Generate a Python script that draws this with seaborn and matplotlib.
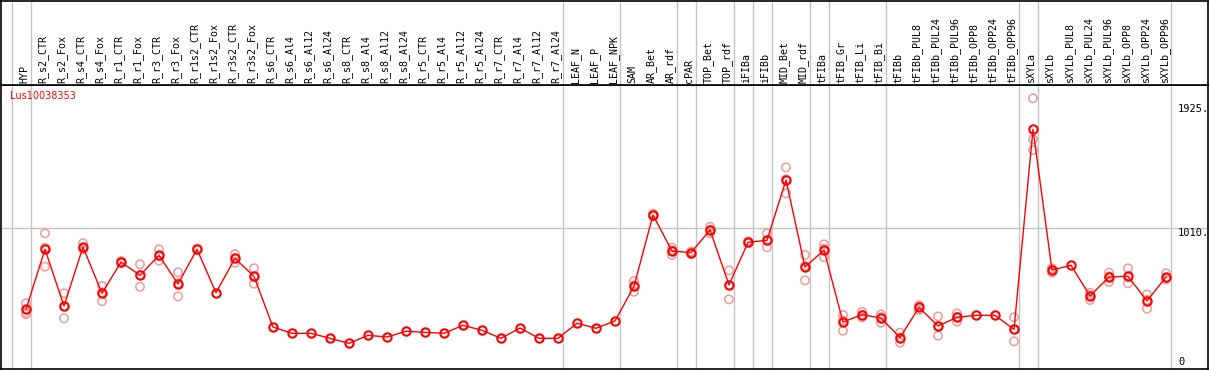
import numpy as np
import pandas as pd
import matplotlib
matplotlib.use("Agg")
import matplotlib.pyplot as plt
import seaborn as sns

gene = "Lus10038353"

categories = ["HYP", "R_s2_CTR", "R_s2_Fox", "R_s4_CTR", "R_s4_Fox", "R_r1_CTR", "R_r1_Fox",
              "R_r3_CTR", "R_r3_Fox", "R_r1s2_CTR", "R_r1s2_Fox", "R_r3s2_CTR", "R_r3s2_Fox",
              "R_s6_CTR", "R_s6_Al4", "R_s6_Al12", "R_s6_Al24", "R_s8_CTR", "R_s8_Al4",
              "R_s8_Al12", "R_s8_Al24", "R_r5_CTR", "R_r5_Al4", "R_r5_Al12", "R_r5_Al24",
              "R_r7_CTR", "R_r7_Al4", "R_r7_Al12", "R_r7_Al24", "LEAF_N", "LEAF_P", "LEAF_NPK",
              "SAM", "AR_Bet", "AR_rdf", "cPAR", "TOP_Bet", "TOP_rdf", "iFIBa", "iFIBb",
              "MID_Bet", "MID_rdf", "tFIBa", "tFIB_Gr", "tFIB_Li", "tFIB_Bi", "tFIBb",
              "tFIBb_PUL8", "tFIBb_PUL24", "tFIBb_PUL96", "tFIBb_OPP8", "tFIBb_OPP24",
              "tFIBb_OPP96", "sXYLa", "sXYLb", "sXYLb_PUL8", "sXYLb_PUL24", "sXYLb_PUL96",
              "sXYLb_OPP8", "sXYLb_OPP24", "sXYLb_OPP96"]

means = [414, 856, 438, 873, 532, 762, 664, 811, 600, 856, 536, 789, 656,
         283, 237, 237, 200, 163, 222, 210, 252, 244, 237, 296, 259, 200, 276, 200, 200,
         311, 274, 328, 583, 1108, 843, 831, 998, 593, 907, 922, 1366, 725, 850,
         320, 374, 350, 205, 428, 291, 355, 369, 369, 266, 1739, 703, 738, 512,
         652, 657, 475, 652]

nan = np.nan
rep1 = [458, 973, 532, 900, 585, 770, 745, 856, 686, 860, nan, 821, 716,
        nan, nan, nan, nan, nan, nan, nan, nan, nan, nan, nan, nan, nan, nan, nan, nan,
        nan, nan, nan, 622, 1118, 868, 840, 1022, 701, 915, 973, 1459, 814, 892,
        372, 396, 377, 242, 443, 362, 384, nan, nan, 355, 1968, 715, nan, 536,
        684, 716, 524, 679]
rep2 = [389, 728, 348, 863, 473, 755, 580, 772, 509, 852, nan, 757, 602,
        nan, nan, nan, nan, nan, nan, nan, nan, nan, nan, nan, nan, nan, nan, nan, nan,
        nan, nan, nan, 543, 1100, 814, 820, 973, 487, 900, 870, 1268, 627, 797,
        256, 354, 315, 168, 409, 220, 323, nan, nan, 178, 1666, 684, nan, 482,
        615, 605, 418, 635]
rep3 = [377, 867, 434, 856, 538, 762, 667, 805, 605, 856, nan, 789, 650,
        nan, nan, nan, nan, nan, nan, nan, nan, nan, nan, nan, nan, nan, nan, nan, nan,
        nan, nan, nan, 590, 1106, 847, 833, 999, 591, 906, 923, 1371, 734, 861,
        332, 372, 358, 205, 432, 291, 358, nan, nan, 265, 1587, 710, nan, 518,
        657, 650, 483, 642]

group_ends = [-1, 0, 28, 31, 34, 35, 37, 38, 39, 41, 42, 45, 52, 53, 60]
ytick_values = [1925, 1010, 0]
ytick_labels = ["1925.", "1010.", "0"]
grid_value = 1010

W, H = 1209, 370
fig = plt.figure(figsize=(W / 100, H / 100), dpi=100)
sns.set_style("white")
plt.rcParams['font.family'] = ['DejaVu Sans']

# pixel geometry
px0, pstep = 26.0, 19.0
left_px, right_px = 1.0, 1208.0
xl = ((left_px - px0) / pstep, (right_px - px0) / pstep)
y0_px, scale = 365.5, 0.1358
top_px, bot_px = 85.0, 369.0
yl = ((y0_px - bot_px) / scale, (y0_px - top_px) / scale)

ax = fig.add_axes([left_px / W, (H - bot_px) / H, (right_px - left_px) / W, (bot_px - top_px) / H])
lab = fig.add_axes([left_px / W, (H - top_px) / H, (right_px - left_px) / W, (top_px - 1) / H])

x = np.arange(len(categories))
df_mean = pd.DataFrame({"x": x, "value": means})
reps = pd.DataFrame({"x": np.concatenate([x, x, x]),
                     "value": np.concatenate([rep1, rep2, rep3])}).dropna()

grey = "#c4c4c4"
for a in (ax, lab):
    for g in group_ends:
        a.axvline(g + 0.24, color=grey, lw=1, zorder=0)
    a.set_xlim(*xl)
    a.set_xticks([])
    a.set_yticks([])
    for s in a.spines.values():
        s.set_color("black")
        s.set_linewidth(1.2)
    a.set_facecolor("white")

ax.axhline(grid_value, color=grey, lw=1, zorder=0)

sns.scatterplot(data=reps, x="x", y="value", ax=ax, marker="o", s=36,
                facecolors="none", edgecolor="#f09a9a", linewidth=1.1, zorder=2, legend=False)
sns.lineplot(data=df_mean, x="x", y="value", ax=ax, color="red", lw=1, zorder=3,
             marker="o", markersize=6, markerfacecolor="none", markeredgecolor="red",
             markeredgewidth=1.5, legend=False)
ax.set_xlim(*xl)
ax.set_ylim(*yl)
ax.set_xlabel("")
ax.set_ylabel("")
ax.set_xticks([])
ax.set_yticks([])

tx = (1178 - left_px) / (right_px - left_px)
for v, t in zip(ytick_values, ytick_labels):
    if v == 0:
        ax.text(tx + 0.0, -8, t, transform=ax.get_yaxis_transform(), ha="left", va="bottom",
                fontsize=7.5, family="DejaVu Sans Mono", color="black")
    else:
        ax.text(tx, v, t, transform=ax.get_yaxis_transform(), ha="left", va="top",
                fontsize=7.5, family="DejaVu Sans Mono", color="black")

ax.text(9 / (right_px - left_px), 1 - 6 / (bot_px - top_px), gene, transform=ax.transAxes,
        ha="left", va="top", color="red", fontsize=7)

lab.set_ylim(0, 1)
for i, c in enumerate(categories):
    lab.text(i - 0.1, 0.02, c, rotation=90, ha="center", va="bottom",
             fontsize=7.2, family="DejaVu Sans Mono", color="black")

fig.savefig("out.png", dpi=100)
